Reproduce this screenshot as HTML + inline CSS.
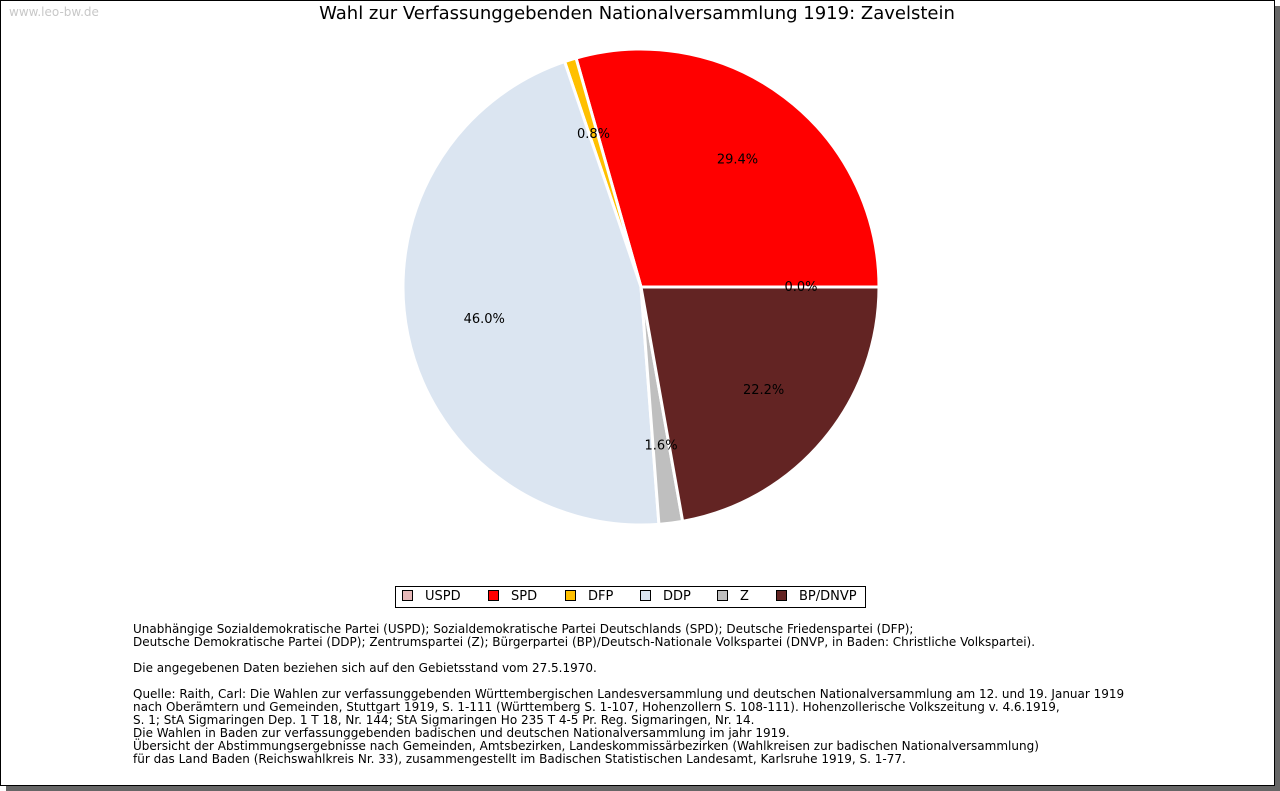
<!DOCTYPE html>
<html><head><meta charset="utf-8"><style>
body{margin:0;width:1280px;height:791px;background:#fff;position:relative;overflow:hidden;font-family:"DejaVu Sans","Liberation Sans",sans-serif}
#frame{position:absolute;left:0;top:0;width:1273px;height:784px;border:1px solid #000;background:#fff;box-shadow:6px 6px 0 #666}
#wm{position:absolute;left:9px;top:5px;font-size:12px;color:#c8c8c8}
#title{position:absolute;left:0;width:1274px;top:3px;text-align:center;font-size:18px;color:#000}
#notes{position:absolute;left:133px;top:623px;font-size:12px;line-height:13px;color:#000;white-space:pre}
#legend{position:absolute;left:395px;top:586px;width:469px;height:20px;border:1px solid #000;font-size:13px}
.li{position:absolute;top:3px;height:14px;line-height:14px}
.sw{display:inline-block;width:9px;height:9px;border:1px solid #000;vertical-align:-1px;margin-right:12px}
</style></head><body>
<div id="frame"></div>
<div id="wm">www.leo-bw.de</div>
<div id="title">Wahl zur Verfassunggebenden Nationalversammlung 1919: Zavelstein</div>
<svg id="pie" width="1280" height="791" style="position:absolute;left:0;top:0"></svg>
<div id="legend"></div>
<div id="notes">Unabhängige Sozialdemokratische Partei (USPD); Sozialdemokratische Partei Deutschlands (SPD); Deutsche Friedenspartei (DFP);
Deutsche Demokratische Partei (DDP); Zentrumspartei (Z); Bürgerpartei (BP)/Deutsch-Nationale Volkspartei (DNVP, in Baden: Christliche Volkspartei).

Die angegebenen Daten beziehen sich auf den Gebietsstand vom 27.5.1970.

Quelle: Raith, Carl: Die Wahlen zur verfassunggebenden Württembergischen Landesversammlung und deutschen Nationalversammlung am 12. und 19. Januar 1919
nach Oberämtern und Gemeinden, Stuttgart 1919, S. 1-111 (Württemberg S. 1-107, Hohenzollern S. 108-111). Hohenzollerische Volkszeitung v. 4.6.1919,
S. 1; StA Sigmaringen Dep. 1 T 18, Nr. 144; StA Sigmaringen Ho 235 T 4-5 Pr. Reg. Sigmaringen, Nr. 14.
Die Wahlen in Baden zur verfassunggebenden badischen und deutschen Nationalversammlung im jahr 1919.
Übersicht der Abstimmungsergebnisse nach Gemeinden, Amtsbezirken, Landeskommissärbezirken (Wahlkreisen zur badischen Nationalversammlung)
für das Land Baden (Reichswahlkreis Nr. 33), zusammengestellt im Badischen Statistischen Landesamt, Karlsruhe 1919, S. 1-77.</div>
<script>
const parties=["USPD","SPD","DFP","DDP","Z","BP/DNVP"];
const shares=[0.0,29.4,0.8,46.0,1.6,22.2];
const colors=["#e6b8b8","#ff0000","#ffc000","#dbe5f1","#bfbfbf","#632423"];
const NS="http://www.w3.org/2000/svg";
const svg=document.getElementById('pie');
const cx=641,cy=287,R=238;
const total=shares.reduce((a,b)=>a+b,0);
let a0=0;
function pt(a,r){return [cx+r*Math.cos(a),cy-r*Math.sin(a)];}
shares.forEach((v,i)=>{
  const sweep=v/total*2*Math.PI;const a1=a0+sweep;
  if(v>0){
    const p0=pt(a0,R),p1=pt(a1,R);
    const path=document.createElementNS(NS,'path');
    path.setAttribute('d',`M${cx},${cy}L${p0[0]},${p0[1]}A${R},${R} 0 ${sweep>Math.PI?1:0} 0 ${p1[0]},${p1[1]}Z`);
    path.setAttribute('fill',colors[i]);path.setAttribute('stroke','#fff');path.setAttribute('stroke-width','3');
    
    
    svg.appendChild(path);
  }
  a0=a1;
});
a0=0;
shares.forEach((v,i)=>{
  const sweep=v/total*2*Math.PI;const m=a0+sweep/2;const p=pt(m,160);
  const t=document.createElementNS(NS,'text');
  t.setAttribute('x',p[0]);t.setAttribute('y',p[1]+4);t.setAttribute('text-anchor','middle');
  t.setAttribute('font-size','13');t.setAttribute('font-family','DejaVu Sans, sans-serif');
  t.textContent=v.toFixed(1)+'%';
  
  
  svg.appendChild(t);a0+=sweep;
});
const lg=document.getElementById('legend');
parties.forEach((p,i)=>{
  const d=document.createElement('div');d.className='li';d.style.left=[6,92,169,244,321,380][i]+'px';
  
  
  d.innerHTML='<span class="sw" style="background:'+colors[i]+'"></span>'+p;
  lg.appendChild(d);
});
</script>
</body></html>
